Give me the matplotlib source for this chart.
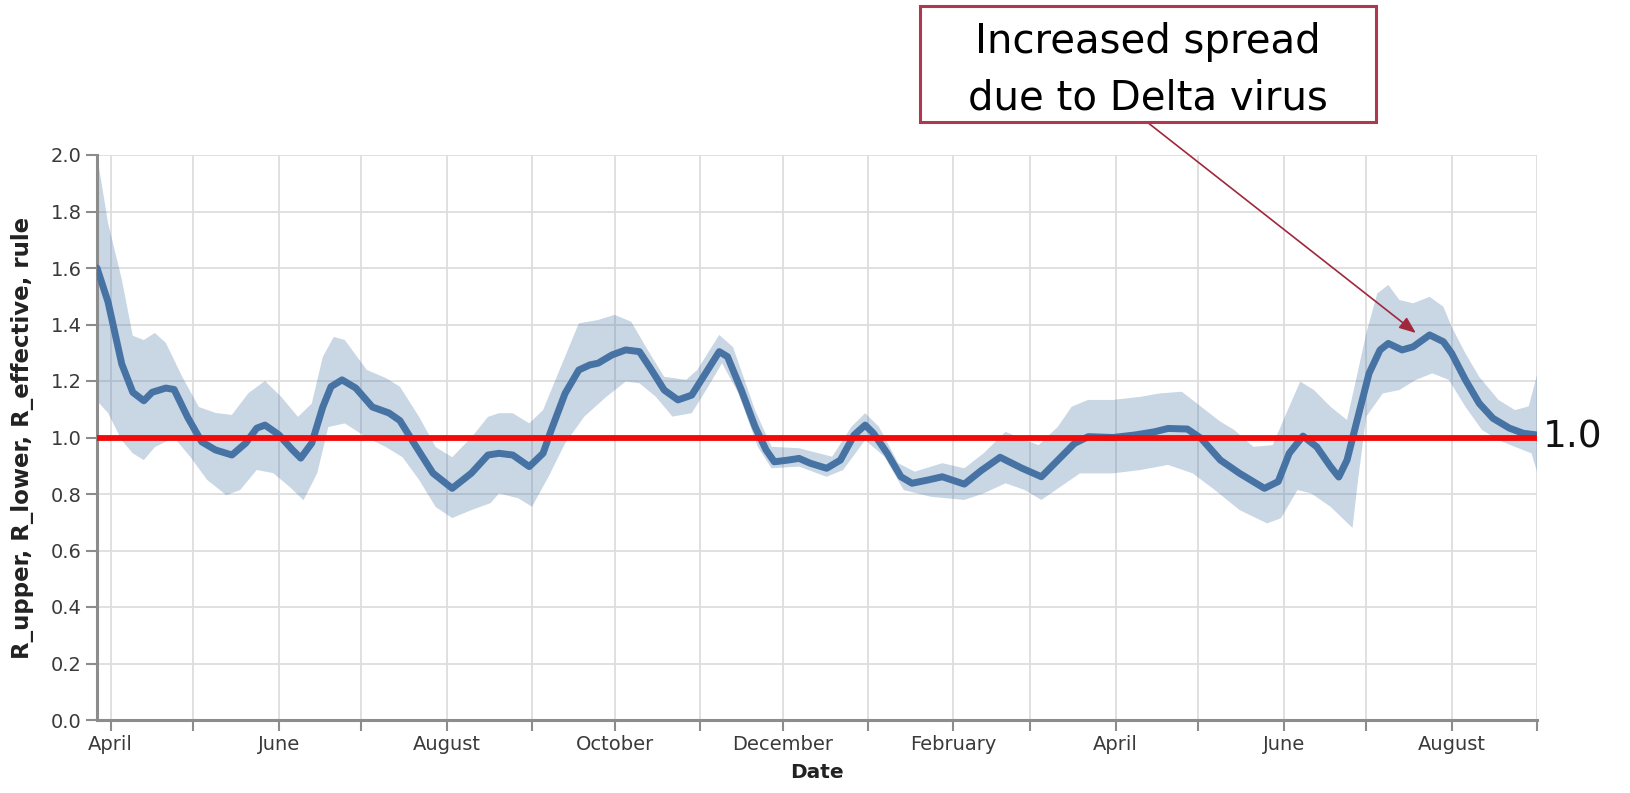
import matplotlib
matplotlib.use("Agg")
import matplotlib.pyplot as plt
import matplotlib.dates as mdates
from matplotlib.ticker import FuncFormatter, MultipleLocator
from matplotlib.patches import Rectangle
import numpy as np
import pandas as pd

# ---------------- data (day offsets from 2020-04-01) ----------------
START = pd.Timestamp("2020-04-01")
X_MIN = "2020-03-27"
X_MAX = "2021-09-01"

eff_day = [-5, -1, 4, 8, 12, 15, 20, 23, 28, 33, 38, 44, 49, 53, 56, 61, 66, 69, 73, 77,
           80, 84, 89, 95, 101, 105, 111, 117, 124, 131, 137, 141, 146, 152, 157, 160, 165, 170, 174, 177,
           182, 187, 192, 196, 201, 206, 211, 216, 221, 224, 229, 234, 238, 241, 246, 250, 254, 260, 265, 270,
           274, 277, 282, 287, 291, 297, 302, 310, 316, 323, 331, 338, 344, 350, 355, 364, 372, 379, 384, 391,
           396, 403, 410, 419, 424, 428, 433, 438, 443, 446, 449, 453, 457, 461, 464, 469, 473, 479, 484, 487,
           492, 497, 502, 508, 513, 518]
eff_val = [1.60, 1.48, 1.26, 1.16, 1.13, 1.16, 1.175, 1.17, 1.07, 0.985, 0.956, 0.938, 0.98, 1.033, 1.044, 1.01, 0.956, 0.927, 0.98, 1.108,
           1.18, 1.204, 1.175, 1.108, 1.087, 1.06, 0.966, 0.874, 0.82, 0.874, 0.938, 0.944, 0.938, 0.897, 0.944, 1.027, 1.156, 1.239, 1.257, 1.263,
           1.292, 1.31, 1.304, 1.245, 1.168, 1.133, 1.15, 1.227, 1.304, 1.286, 1.168, 1.038, 0.956, 0.914, 0.92, 0.926, 0.909, 0.891, 0.92, 1.009,
           1.044, 1.015, 0.944, 0.861, 0.838, 0.85, 0.861, 0.835, 0.882, 0.93, 0.891, 0.861, 0.92, 0.979, 1.003, 1.0, 1.009, 1.02, 1.032, 1.03,
           0.997, 0.92, 0.873, 0.82, 0.844, 0.944, 1.005, 0.967, 0.897, 0.86, 0.92, 1.074, 1.227, 1.31, 1.333, 1.31, 1.321, 1.363, 1.339, 1.298,
           1.204, 1.121, 1.068, 1.033, 1.015, 1.009]

up_day = [-5, -1, 4, 8, 12, 16, 20, 26, 32, 38, 44, 50, 56, 62, 68, 73, 77, 81, 85, 93,
          100, 105, 112, 118, 124, 131, 137, 141, 146, 152, 157, 163, 170, 177, 183, 189, 195, 201, 209, 213,
          221, 226, 234, 240, 250, 262, 269, 274, 279, 286, 292, 302, 310, 317, 325, 332, 337, 344, 349, 355,
          364, 374, 381, 389, 396, 403, 408, 415, 422, 427, 432, 437, 443, 449, 452, 456, 460, 464, 468, 473,
          479, 484, 487, 492, 497, 504, 510, 515, 518]
up_val = [2.0, 1.76, 1.56, 1.36, 1.345, 1.37, 1.335, 1.214, 1.108, 1.087, 1.08, 1.157, 1.20, 1.143, 1.073, 1.12, 1.285, 1.356, 1.345, 1.239,
          1.21, 1.18, 1.073, 0.966, 0.93, 1.0, 1.073, 1.086, 1.086, 1.05, 1.097, 1.239, 1.404, 1.416, 1.434, 1.41, 1.31, 1.215, 1.204, 1.239,
          1.363, 1.32, 1.097, 0.967, 0.962, 0.932, 1.038, 1.086, 1.038, 0.909, 0.879, 0.909, 0.891, 0.944, 1.02, 0.991, 0.973, 1.038, 1.109, 1.133,
          1.133, 1.144, 1.156, 1.162, 1.109, 1.056, 1.027, 0.967, 0.973, 1.086, 1.198, 1.168, 1.109, 1.062, 1.192, 1.369, 1.51, 1.54, 1.487, 1.475,
          1.498, 1.463, 1.392, 1.298, 1.215, 1.133, 1.097, 1.11, 1.22]

low_day = [-5, -1, 4, 8, 12, 16, 23, 29, 35, 42, 47, 53, 59, 65, 70, 75, 79, 85, 93, 100,
           106, 112, 118, 124, 131, 138, 141, 148, 153, 159, 165, 172, 180, 187, 192, 198, 204, 211, 217, 222,
           228, 235, 240, 250, 260, 266, 274, 281, 288, 298, 310, 317, 325, 332, 338, 345, 352, 364, 374, 384,
           393, 401, 410, 420, 425, 431, 436, 443, 451, 453, 456, 462, 468, 474, 480, 486, 492, 498, 504, 510,
           516, 518]
low_val = [1.13, 1.087, 0.99, 0.944, 0.92, 0.966, 1.0, 0.93, 0.85, 0.796, 0.814, 0.885, 0.874, 0.825, 0.778, 0.874, 1.037, 1.05, 1.0, 0.966,
           0.93, 0.85, 0.754, 0.715, 0.743, 0.768, 0.802, 0.785, 0.755, 0.861, 0.979, 1.074, 1.144, 1.198, 1.192, 1.144, 1.074, 1.086, 1.18, 1.263,
           1.156, 0.967, 0.891, 0.897, 0.861, 0.885, 0.991, 0.932, 0.814, 0.79, 0.779, 0.802, 0.838, 0.814, 0.779, 0.826, 0.873, 0.873, 0.885, 0.903,
           0.873, 0.814, 0.743, 0.696, 0.714, 0.814, 0.802, 0.755, 0.68, 0.85, 1.074, 1.156, 1.168, 1.204, 1.227, 1.204, 1.109, 1.027, 0.991, 0.967,
           0.944, 0.88]

RULE = 1.0
RULE_LABEL = "1.0"
y_ticks = [0.0, 0.2, 0.4, 0.6, 0.8, 1.0, 1.2, 1.4, 1.6, 1.8, 2.0]
labelled_months = {2: "February", 4: "April", 6: "June", 8: "August", 10: "October", 12: "December"}
annot_lines = ["Increased spread", "due to Delta virus"]
annot_target_date = "2021-07-19"
annot_target_val = 1.37
x_title = "Date"
y_title = "R_upper, R_lower, R_effective, rule"

# ---------------- plotting ----------------
def to_dates(days):
    return mdates.date2num(START + pd.to_timedelta(np.array(days, dtype=float), unit="D"))

W, H = 1631, 793
fig = plt.figure(figsize=(W / 100, H / 100), dpi=100)
ax = fig.add_axes([97 / W, 1 - 720 / H, (1537 - 97) / W, (720 - 155) / H])

up_x, low_x, eff_x = to_dates(up_day), to_dates(low_day), to_dates(eff_day)
ax.fill(np.concatenate([up_x, low_x[::-1]]),
        np.concatenate([up_val, low_val[::-1]]),
        color="#4c78a8", alpha=0.3, lw=0, zorder=2)
ax.plot(eff_x, eff_val, color="#4672a4", lw=5.0, solid_joinstyle="round",
        solid_capstyle="round", zorder=3)
ax.axhline(RULE, color="#f00a0a", lw=4.2, zorder=4)

ax.set_xlim(mdates.datestr2num(X_MIN), mdates.datestr2num(X_MAX))
ax.set_ylim(0, 2.0)
ax.set_yticks(y_ticks)
ax.yaxis.set_major_formatter(FuncFormatter(lambda v, p: f"{v:.1f}"))
ax.xaxis.set_major_locator(mdates.MonthLocator())
ax.xaxis.set_major_formatter(FuncFormatter(
    lambda v, p: labelled_months.get(mdates.num2date(v).month, "")))

ax.set_axisbelow(True)
ax.grid(True, color="#dddddd", lw=1.3)
for s in ["top", "right"]:
    ax.spines[s].set_visible(False)
for s in ["left", "bottom"]:
    ax.spines[s].set_color("#8c8c8c")
    ax.spines[s].set_linewidth(2.2)
ax.tick_params(axis="both", colors="#8c8c8c", length=8, width=1.5,
               labelcolor="#3a3a3a", labelsize=14, pad=3)

ax.set_xlabel(x_title, fontsize=14.5, fontweight="bold", color="#222222", labelpad=6)
ax.set_ylabel(y_title, fontsize=16.5, fontweight="bold", color="#222222")
ax.yaxis.set_label_coords(-0.044, 0.5)

ax.text(1.004, RULE, RULE_LABEL, transform=ax.get_yaxis_transform(),
        fontsize=27, color="#111111", va="center", ha="left")

# annotation box
bx0, by0, bx1, by1 = 920, 6, 1376, 122
fig.patches.append(Rectangle((bx0 / W, 1 - by1 / H), (bx1 - bx0) / W, (by1 - by0) / H,
                             transform=fig.transFigure, fill=True, facecolor="white",
                             edgecolor="#b0384e", lw=2.2))
fig.text(1148 / W, 1 - 53 / H, annot_lines[0], fontsize=29, ha="center", va="baseline", color="black")
fig.text(1148 / W, 1 - 110 / H, annot_lines[1], fontsize=29, ha="center", va="baseline", color="black")

ax.annotate("", xy=(mdates.datestr2num(annot_target_date), annot_target_val), xycoords="data",
            xytext=(1147 / W, 1 - 122 / H), textcoords="figure fraction",
            arrowprops=dict(arrowstyle="-|>,head_length=1.0,head_width=0.4",
                            color="#a0283c", lw=1.2, shrinkA=0, shrinkB=0),
            annotation_clip=False, zorder=6)

fig.savefig("out.png", dpi=100)
